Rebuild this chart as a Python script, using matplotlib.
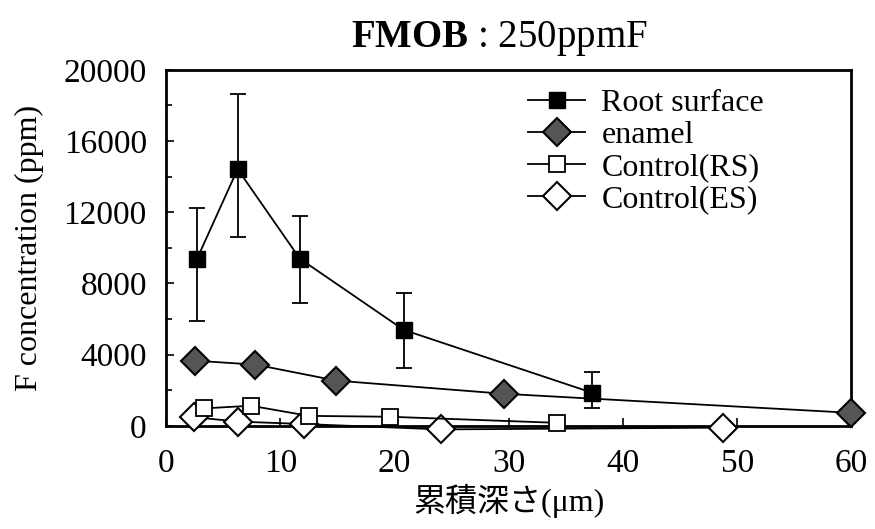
import numpy as np
import matplotlib.pyplot as plt

plt.rcParams['font.family'] = ['Liberation Serif', 'Noto Sans CJK JP']
plt.rcParams['mathtext.fontset'] = 'custom'
plt.rcParams['mathtext.rm'] = 'Liberation Serif'
plt.rcParams['mathtext.bf'] = 'Liberation Serif:bold'

# Root surface (mean +- error)
rs_x = [2.7, 6.25, 11.7, 20.8, 37.3]
rs_y = [9390, 14420, 9390, 5390, 1860]
rs_hi = [12240, 18630, 11810, 7480, 3000]
rs_lo = [5910, 10610, 6890, 3270, 1000]

# enamel
en_x = [2.5, 7.8, 14.9, 29.6, 60]
en_y = [3660, 3440, 2540, 1800, 730]

# Control(RS)
crs_x = [3.3, 7.4, 12.5, 19.6, 34.2]
crs_y = [980, 1130, 560, 510, 170]

# Control(ES)
ces_x = [2.4, 6.25, 12.1, 24.1, 48.8]
ces_y = [490, 240, 100, -200, -100]

fig = plt.figure(figsize=(8.75, 5.29), dpi=100)
ax = fig.add_axes([0.19, 0.195, 0.783, 0.673])

yerr = [np.array(rs_y) - np.array(rs_lo), np.array(rs_hi) - np.array(rs_y)]
ax.errorbar(rs_x, rs_y, yerr=yerr, fmt='none', ecolor='black', elinewidth=1.3,
            capsize=6, capthick=1.3, zorder=2)

ax.plot(ces_x, ces_y, color='black', lw=1.3, marker='D', ms=14, mfc='white',
        mec='black', mew=1.5, label='Control(ES)', zorder=3, clip_on=False)
ax.plot(crs_x, crs_y, color='black', lw=1.3, marker='s', ms=12, mfc='white',
        mec='black', mew=1.3, label='Control(RS)', zorder=3, clip_on=False)
ax.plot(en_x, en_y, color='black', lw=1.3, marker='D', ms=14, mfc='#555555',
        mec='black', mew=1.5, label='enamel', zorder=4, clip_on=False)
ax.plot(rs_x, rs_y, color='black', lw=1.3, marker='s', ms=12, mfc='black',
        mec='black', label='Root surface', zorder=5, clip_on=False)

ax.set_xlim(0, 60)
ax.set_ylim(0, 20000)
ax.set_xticks(np.arange(0, 61, 10))
ax.set_yticks(np.arange(0, 20001, 4000))
ax.set_yticks(np.arange(0, 20001, 2000), minor=True)
ax.tick_params(direction='in', labelsize=24, length=6, width=1.2)
ax.tick_params(which='minor', direction='in', length=4, width=1.2)
ax.tick_params(axis='x', pad=16)
ax.tick_params(axis='y', pad=14)
for s in ax.spines.values():
    s.set_linewidth(2)

ax.set_xlabel('累積深さ(μm)', fontsize=23, labelpad=4)
ax.set_ylabel('F concentration (ppm)', fontsize=23, labelpad=14)

fig.text(0.571, 0.928, r'$\mathbf{FMOB}$ : 250ppmF', fontsize=28, ha='center',
         va='center')

h, l = ax.get_legend_handles_labels()
ax.legend(h[::-1], l[::-1], loc='upper left', bbox_to_anchor=(0.5, 1.0),
          frameon=False, fontsize=23, handlelength=1.8, labelspacing=0.08,
          handletextpad=0.5, borderaxespad=0.2)

fig.savefig('out.png', dpi=100)
